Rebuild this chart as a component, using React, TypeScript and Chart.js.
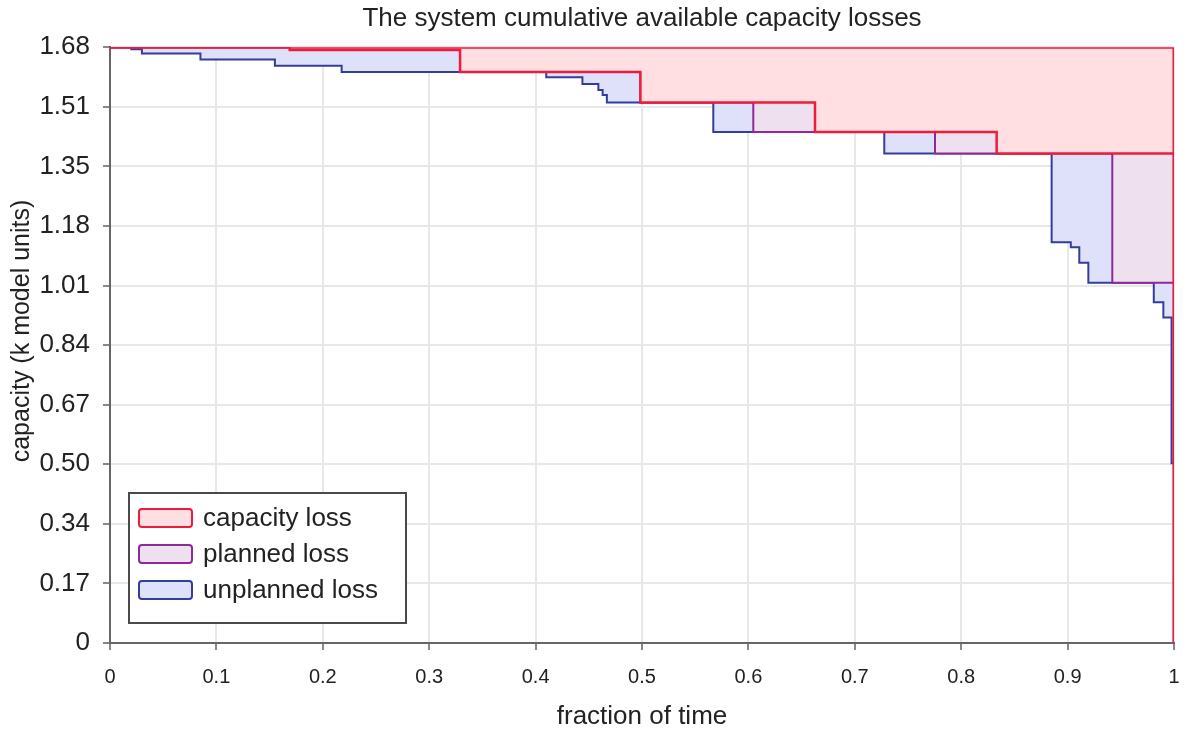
import React, { useEffect, useRef } from 'react';
import { Chart, registerables } from 'chart.js';

Chart.register(...registerables);

// ---------- texts ----------
const TITLE = 'The system cumulative available capacity losses';
const X_TITLE = 'fraction of time';
const Y_TITLE = 'capacity (k model units)';
const SERIES_LABELS = ['capacity loss', 'planned loss', 'unplanned loss'];

// ---------- axes ----------
const Y_MAX = 1.68;
const Y_TICK_LABELS = ['0', '0.17', '0.34', '0.50', '0.67', '0.84', '1.01', '1.18', '1.35', '1.51', '1.68'];
const X_TICK_VALUES = [0, 0.1, 0.2, 0.3, 0.4, 0.5, 0.6, 0.7, 0.8, 0.9, 1];
const X_TICK_LABELS = ['0', '0.1', '0.2', '0.3', '0.4', '0.5', '0.6', '0.7', '0.8', '0.9', '1'];

// ---------- step series (value holds from x[i] until x[i+1]) ----------
const nominalX = [0, 1];
const nominalY = [1.68, 0];

const capacityX = [0, 0.169, 0.329, 0.4985, 0.6626, 0.8333, 1];
const capacityY = [1.68, 1.672, 1.61, 1.524, 1.441, 1.38, 0];

const plannedX = [0, 0.169, 0.329, 0.4985, 0.6046, 0.7754, 0.942, 1];
const plannedY = [1.68, 1.672, 1.61, 1.524, 1.441, 1.38, 1.016, 0];

const unplannedX = [0, 0.02, 0.03, 0.085, 0.155, 0.2177, 0.41, 0.444, 0.459, 0.463, 0.467, 0.567, 0.7277, 0.885, 0.903, 0.911, 0.9195, 0.981, 0.990, 0.9977, 1];
const unplannedY = [1.68, 1.674, 1.662, 1.645, 1.628, 1.61, 1.595, 1.576, 1.559, 1.545, 1.524, 1.441, 1.38, 1.13, 1.116, 1.072, 1.016, 0.961, 0.918, 0.507, 0];

// ---------- styles ----------
const RED = '#ee1c3c';
const PURPLE = '#8e2a98';
const BLUE = '#333d9c';
const PINK_FILL = '#ffdfe2';
const PURPLE_FILL = '#eee0ef';
const BLUE_FILL = '#dfe1fa';
const FONT = "'Liberation Sans', Arial, sans-serif";
const TEXT = '#222';

const grid: number[] = Array.from(new Set([...capacityX, ...plannedX, ...unplannedX])).sort((a, b) => a - b);

function stepAt(xs: number[], ys: number[], x: number): number {
  let v = ys[0];
  for (let i = 0; i < xs.length; i++) if (xs[i] <= x + 1e-12) v = ys[i];
  return v;
}
function toPoints(xs: number[], ys: number[]) {
  return grid.map((x) => ({ x, y: stepAt(xs, ys, x) }));
}

const legendBoxPlugin = {
  id: 'legendBox',
  afterDraw(chart: any) {
    const ctx = chart.ctx as CanvasRenderingContext2D;
    const area = chart.chartArea;
    const bx = area.left + 19;
    const by = area.bottom - 150;
    const bw = 277;
    const bh = 130;
    ctx.save();
    ctx.fillStyle = '#ffffff';
    ctx.fillRect(bx, by, bw, bh);
    ctx.lineWidth = 2;
    ctx.strokeStyle = '#4a4a4a';
    ctx.strokeRect(bx, by, bw, bh);
    const items = [1, 2, 3].map((i) => chart.data.datasets[i]);
    items.forEach((ds: any, k: number) => {
      const sy = by + 16 + k * 36;
      const sx = bx + 10;
      const sw = 53;
      const sh = 18;
      ctx.beginPath();
      (ctx as any).roundRect(sx, sy, sw, sh, 3);
      ctx.fillStyle = ds.backgroundColor;
      ctx.fill();
      ctx.lineWidth = 2;
      ctx.strokeStyle = ds.borderColor;
      ctx.stroke();
      ctx.fillStyle = TEXT;
      ctx.font = `26px ${FONT}`;
      ctx.textBaseline = 'middle';
      ctx.textAlign = 'left';
      ctx.fillText(ds.label, sx + sw + 11, sy + sh / 2 + 1);
    });
    // y axis title
    ctx.translate(22, 331);
    ctx.rotate(-Math.PI / 2);
    ctx.font = `25px ${FONT}`;
    ctx.fillStyle = TEXT;
    ctx.textAlign = 'center';
    ctx.textBaseline = 'middle';
    ctx.fillText(Y_TITLE, 0, 0);
    ctx.restore();
  },
};

export default function App() {
  const ref = useRef<HTMLCanvasElement | null>(null);
  useEffect(() => {
    document.body.style.margin = '0';
    const canvas = ref.current!;
    const chart = new Chart(canvas, {
      type: 'line',
      data: {
        datasets: [
          {
            label: 'nominal',
            data: toPoints(nominalX, nominalY),
            borderColor: RED,
            borderWidth: 3,
            pointRadius: 0,
            stepped: 'before',
            fill: false,
          },
          {
            label: SERIES_LABELS[0],
            data: toPoints(capacityX, capacityY),
            borderColor: RED,
            backgroundColor: PINK_FILL,
            borderWidth: 2.5,
            pointRadius: 0,
            stepped: 'before',
            fill: '-1',
          },
          {
            label: SERIES_LABELS[1],
            data: toPoints(plannedX, plannedY),
            borderColor: PURPLE,
            backgroundColor: PURPLE_FILL,
            borderWidth: 2,
            pointRadius: 0,
            stepped: 'before',
            fill: '-1',
          },
          {
            label: SERIES_LABELS[2],
            data: toPoints(unplannedX, unplannedY),
            borderColor: BLUE,
            backgroundColor: BLUE_FILL,
            borderWidth: 2,
            pointRadius: 0,
            stepped: 'before',
            fill: '-1',
          },
        ] as any,
      },
      options: {
        animation: false,
        responsive: false,
        maintainAspectRatio: false,
        layout: { padding: { left: 0, right: 16, top: 0, bottom: 0 } },
        plugins: {
          legend: { display: false },
          tooltip: { enabled: false },
          title: {
            display: true,
            fullSize: false,
            text: TITLE,
            color: TEXT,
            font: { family: FONT, size: 26, weight: 'normal' as any, lineHeight: 1.2 },
            padding: { top: 3, bottom: 13 },
          },
        },
        scales: {
          x: {
            type: 'linear',
            min: 0,
            max: 1,
            afterFit: (s: any) => { s.height = 88; },
            afterBuildTicks: (s: any) => { s.ticks = X_TICK_VALUES.map((v) => ({ value: v })); },
            ticks: {
              color: TEXT,
              font: { family: FONT, size: 20, lineHeight: 1.8 },
              padding: 9,
              maxRotation: 0,
              autoSkip: false,
              callback: (_v: any, i: number) => X_TICK_LABELS[i],
            },
            grid: { color: '#e8e8e8', lineWidth: 2, tickLength: 7, tickColor: '#888' },
            border: { color: '#666', width: 2 },
            title: {
              display: true,
              text: X_TITLE,
              color: TEXT,
              font: { family: FONT, size: 26, lineHeight: 1.1 },
              padding: { top: 0, bottom: 0 },
            },
          },
          y: {
            type: 'linear',
            min: 0,
            max: Y_MAX,
            afterFit: (s: any) => { s.width = 110; },
            afterBuildTicks: (s: any) => { s.ticks = Y_TICK_LABELS.map((_, i) => ({ value: (Y_MAX * i) / 10 })); },
            ticks: {
              color: TEXT,
              font: { family: FONT, size: 26 },
              padding: 13,
              autoSkip: false,
              callback: (_v: any, i: number) => Y_TICK_LABELS[i],
            },
            grid: { color: '#e8e8e8', lineWidth: 2, tickLength: 7, tickColor: '#888' },
            border: { color: '#666', width: 2 },
            title: { display: false },
          },
        },
      } as any,
      plugins: [legendBoxPlugin],
    });
    return () => chart.destroy();
  }, []);
  return (
    <div style={{ position: 'fixed', left: 0, top: 0, width: 1190, height: 731, background: '#fff' }}>
      <canvas ref={ref} width={1190} height={731} style={{ width: 1190, height: 731, display: 'block' }} />
    </div>
  );
}
